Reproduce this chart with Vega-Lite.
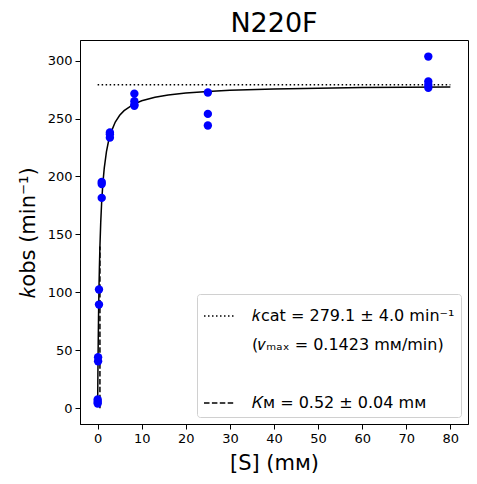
{
  "$schema": "https://vega.github.io/schema/vega-lite/v6.json",
  "description": "Michaelis-Menten fit for N220F",
  "width": 388,
  "height": 384,
  "autosize": {"type": "none"},
  "padding": {"left": 80, "top": 40, "right": 9, "bottom": 60},
  "title": {
    "text": "N220F",
    "fontSize": 27,
    "font": "DejaVu Sans",
    "fontWeight": "normal",
    "color": "black",
    "anchor": "middle",
    "frame": "group",
    "baseline": "alphabetic",
    "offset": 8,
    "dy": 27
  },
  "datasets": {
    "fit": [
      {"S": 0.0114, "k": 5.99},
      {"S": 0.03, "k": 15.22},
      {"S": 0.06, "k": 28.87},
      {"S": 0.1, "k": 45.02},
      {"S": 0.15, "k": 62.49},
      {"S": 0.2, "k": 77.53},
      {"S": 0.3, "k": 102.11},
      {"S": 0.4, "k": 121.35},
      {"S": 0.52, "k": 139.55},
      {"S": 0.7, "k": 160.14},
      {"S": 0.9, "k": 176.89},
      {"S": 1.2, "k": 194.72},
      {"S": 1.5, "k": 207.25},
      {"S": 2, "k": 221.51},
      {"S": 2.5, "k": 231.04},
      {"S": 3, "k": 237.87},
      {"S": 4, "k": 246.99},
      {"S": 5, "k": 252.81},
      {"S": 6, "k": 256.84},
      {"S": 8, "k": 262.07},
      {"S": 10, "k": 265.3},
      {"S": 13, "k": 268.36},
      {"S": 16, "k": 270.31},
      {"S": 20, "k": 272.03},
      {"S": 25, "k": 273.41},
      {"S": 30, "k": 274.34},
      {"S": 40, "k": 275.52},
      {"S": 50, "k": 276.23},
      {"S": 60, "k": 276.7},
      {"S": 70, "k": 277.04},
      {"S": 80, "k": 277.3}
    ],
    "params": [
      {"line": "kcat", "S": 0, "S2": 80, "k": 279.1, "k2": 279.1},
      {"line": "km", "S": 0.52, "S2": 0.52, "k": 0, "k2": 139.55}
    ],
    "obs": [
      {"S": 75, "k": 303.5},
      {"S": 75, "k": 282},
      {"S": 75, "k": 279},
      {"S": 75, "k": 276.5},
      {"S": 25, "k": 272.5},
      {"S": 25, "k": 254},
      {"S": 25, "k": 244},
      {"S": 8.333, "k": 271.5},
      {"S": 8.333, "k": 265},
      {"S": 8.333, "k": 262},
      {"S": 8.333, "k": 261},
      {"S": 2.778, "k": 238},
      {"S": 2.778, "k": 236.5},
      {"S": 2.778, "k": 233.5},
      {"S": 0.926, "k": 195.2},
      {"S": 0.926, "k": 193.5},
      {"S": 0.926, "k": 181.5},
      {"S": 0.309, "k": 102.4},
      {"S": 0.309, "k": 89.4},
      {"S": 0.103, "k": 43.9},
      {"S": 0.103, "k": 40.4},
      {"S": 0.0114, "k": 7.5},
      {"S": 0.0114, "k": 5.5},
      {"S": 0.0114, "k": 4}
    ]
  },
  "encoding": {
    "x": {
      "field": "S",
      "type": "quantitative",
      "scale": {"domain": [-4, 84], "nice": false, "zero": false},
      "axis": {
        "title": "[S] (mᴍ)",
        "values": [0, 10, 20, 30, 40, 50, 60, 70, 80],
        "titlePadding": 7
      }
    },
    "y": {
      "field": "k",
      "type": "quantitative",
      "scale": {"domain": [-13.7, 317.8], "nice": false, "zero": false},
      "axis": {
        "title": "𝑘obs (min⁻¹)",
        "values": [0, 50, 100, 150, 200, 250, 300],
        "titlePadding": 9
      }
    }
  },
  "layer": [
    {
      "data": {"name": "params"},
      "mark": {"type": "rule", "color": "black", "strokeWidth": 1.5},
      "encoding": {
        "x2": {"field": "S2"},
        "y2": {"field": "k2"},
        "strokeDash": {
          "field": "line",
          "type": "nominal",
          "scale": {
            "domain": ["kcat", "vmax", "gap", "km"],
            "range": [[1.5, 2.5], [0, 1000], [0, 1000], [5.5, 2.4]]
          },
          "legend": {
            "title": null,
            "orient": "bottom-right",
            "offset": 7,
            "padding": 6,
            "fillColor": "white",
            "strokeColor": "#d0d0d0",
            "cornerRadius": 3,
            "symbolType": "stroke",
            "symbolSize": 900,
            "symbolStrokeColor": "black",
            "symbolStrokeWidth": 1.5,
            "labelFontSize": 16,
            "labelFont": "DejaVu Sans",
            "labelColor": "black",
            "labelOffset": 17,
            "rowPadding": 5,
            "labelLimit": 400,
            "labelExpr": "datum.value == 'kcat' ? '𝑘cat = 279.1 ± 4.0 min⁻¹' : datum.value == 'vmax' ? '(𝑣ₘₐₓ = 0.1423 mᴍ/min)' : datum.value == 'gap' ? '' : '𝐾ᴍ = 0.52 ± 0.04 mᴍ'"
          }
        }
      }
    },
    {
      "data": {"name": "fit"},
      "mark": {"type": "line", "color": "black", "strokeWidth": 1.5}
    },
    {
      "data": {"name": "obs"},
      "mark": {"type": "point", "filled": true, "color": "#0000ff", "opacity": 1, "size": 70}
    }
  ],
  "config": {
    "font": "DejaVu Sans",
    "view": {"stroke": "black", "strokeWidth": 1},
    "axis": {
      "grid": false,
      "domainColor": "black",
      "tickColor": "black",
      "tickSize": 5,
      "labelFontSize": 13,
      "labelColor": "black",
      "labelFont": "DejaVu Sans",
      "labelPadding": 3,
      "titleFontSize": 21,
      "titleFont": "DejaVu Sans",
      "titleFontWeight": "normal",
      "titleColor": "black"
    }
  }
}
